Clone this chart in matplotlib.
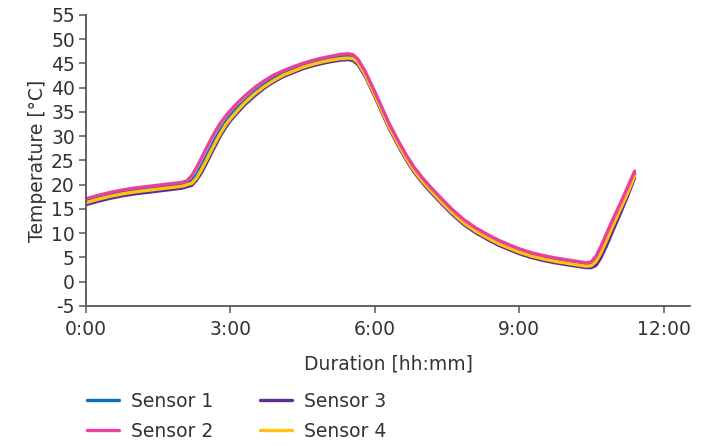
import matplotlib
matplotlib.use("Agg")
import matplotlib.pyplot as plt
from matplotlib.ticker import FuncFormatter

plt.rcParams.update({'font.size': 13.5, 'font.family': 'DejaVu Sans',
                     'axes.unicode_minus': False})

# time in hours
hours = [0, 0.25, 0.5, 0.75, 1.0, 1.25, 1.5, 1.75, 2.0, 2.1,
         2.2, 2.3, 2.4, 2.5, 2.6, 2.7, 2.8, 2.9, 3.0, 3.15,
         3.3, 3.5, 3.7, 3.9, 4.1, 4.3, 4.5, 4.7, 4.9, 5.1,
         5.3, 5.45, 5.55, 5.65, 5.8, 6.0, 6.15, 6.3, 6.48, 6.65,
         6.81, 7.0, 7.17, 7.4, 7.6, 7.85, 8.1, 8.35, 8.56, 8.8,
         9.0, 9.25, 9.5, 9.75, 10.0, 10.2, 10.4, 10.5, 10.6, 10.7,
         10.81, 10.95, 11.1, 11.25, 11.4]

sensor1 = [16.7, 17.4, 18.0, 18.5, 18.9, 19.2, 19.5, 19.8, 20.1, 20.4,
           20.8, 22.1, 23.9, 25.8, 27.8, 29.7, 31.4, 32.9, 34.2, 35.9,
           37.3, 39.1, 40.6, 41.9, 42.9, 43.7, 44.5, 45.1, 45.6, 46.1,
           46.5, 46.6, 46.4, 45.5, 43.0, 38.8, 35.5, 32.2, 28.8, 25.8,
           23.3, 20.9, 19.0, 16.6, 14.6, 12.4, 10.7, 9.3, 8.2, 7.2,
           6.4, 5.6, 5.0, 4.5, 4.1, 3.8, 3.5, 3.6, 4.6, 6.5,
           9.0, 12.2, 15.5, 18.8, 22.3]
sensor2 = [17.1, 17.8, 18.4, 18.9, 19.3, 19.6, 19.9, 20.2, 20.5, 20.8,
           21.9, 23.6, 25.5, 27.5, 29.4, 31.2, 32.8, 34.1, 35.3, 36.9,
           38.3, 40.0, 41.4, 42.6, 43.5, 44.3, 45.0, 45.6, 46.1, 46.5,
           46.9, 47.0, 46.8, 45.9, 43.4, 39.2, 35.9, 32.6, 29.2, 26.2,
           23.7, 21.3, 19.4, 17.0, 15.0, 12.8, 11.1, 9.7, 8.6, 7.6,
           6.8, 6.0, 5.4, 4.9, 4.5, 4.2, 3.9, 4.1, 5.3, 7.3,
           9.8, 12.9, 16.1, 19.4, 22.8]
sensor3 = [15.9, 16.6, 17.2, 17.7, 18.1, 18.4, 18.7, 19.0, 19.3, 19.6,
           19.9, 21.0, 22.5, 24.4, 26.4, 28.3, 30.2, 31.8, 33.2, 34.9,
           36.5, 38.3, 39.9, 41.2, 42.3, 43.1, 43.9, 44.5, 45.0, 45.4,
           45.7, 45.8, 45.6, 44.8, 42.4, 38.2, 34.9, 31.6, 28.2, 25.2,
           22.7, 20.3, 18.4, 16.0, 14.0, 11.8, 10.1, 8.7, 7.6, 6.6,
           5.8, 5.0, 4.4, 3.9, 3.5, 3.2, 2.9, 2.9, 3.4, 5.0,
           7.3, 10.6, 14.0, 17.6, 21.4]
sensor4 = [16.3, 17.0, 17.6, 18.1, 18.5, 18.8, 19.1, 19.4, 19.7, 20.0,
           20.3, 21.4, 23.1, 25.0, 27.0, 28.9, 30.7, 32.3, 33.6, 35.3,
           36.9, 38.7, 40.2, 41.5, 42.6, 43.4, 44.2, 44.8, 45.3, 45.7,
           46.0, 46.1, 46.0, 45.2, 42.7, 38.5, 35.2, 31.9, 28.5, 25.5,
           23.0, 20.6, 18.7, 16.3, 14.3, 12.1, 10.4, 9.0, 7.9, 6.9,
           6.1, 5.3, 4.7, 4.2, 3.8, 3.5, 3.2, 3.3, 4.2, 6.0,
           8.4, 11.6, 14.9, 18.2, 21.8]

labels = ['Sensor 1', 'Sensor 2', 'Sensor 3', 'Sensor 4']
colors = ['#0b6ebd', '#ec3f99', '#5a2e91', '#ffc20e']

fig = plt.figure(figsize=(7.07, 4.45), dpi=100)
ax = fig.add_axes([0.1216, 0.3124, 0.855, 0.654])

series = [sensor1, sensor2, sensor3, sensor4]
lines = {}
# purple at the bottom, pink on top
for i in [2, 0, 3, 1]:
    ln, = ax.plot(hours, series[i], color=colors[i], lw=2.4, label=labels[i],
                  solid_capstyle='round', solid_joinstyle='round')
    lines[i] = ln

ax.set_xlim(0, 12.56)
ax.set_ylim(-5, 55)
ax.set_xticks([0, 3, 6, 9, 12])
ax.set_yticks(range(-5, 56, 5))
ax.xaxis.set_major_formatter(FuncFormatter(lambda v, p: f"{int(v)}:00"))

for s in ['top', 'right']:
    ax.spines[s].set_visible(False)
for s in ['left', 'bottom']:
    ax.spines[s].set_color('#555555')
    ax.spines[s].set_linewidth(1.3)
ax.tick_params(colors='#555555', labelcolor='#333333', length=5, width=1.1)
ax.tick_params(axis='x', pad=5)
ax.tick_params(axis='y', pad=3)

ax.set_ylabel('Temperature [°C]', color='#333333', labelpad=3)
ax.set_xlabel('Duration [hh:mm]', color='#333333', labelpad=11)

fig.legend([lines[i] for i in range(4)], labels, ncol=2, frameon=False,
           loc='upper left', bbox_to_anchor=(0.123, 0.12), handlelength=1.7,
           handletextpad=0.65, columnspacing=2.5, labelspacing=0.6,
           borderaxespad=0, borderpad=0, labelcolor='#333333')

fig.savefig('out.png', dpi=100)
